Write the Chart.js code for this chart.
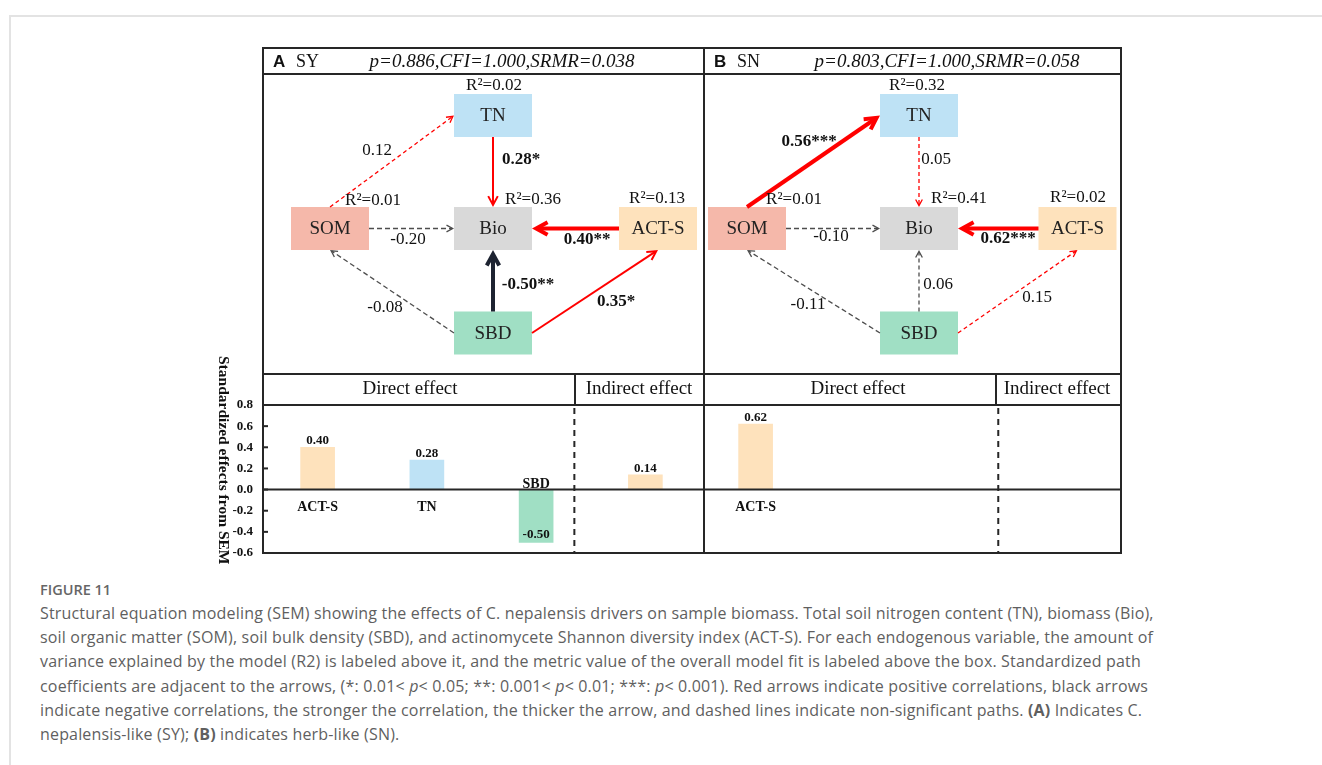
<!DOCTYPE html>
<html>
<head>
<meta charset="utf-8">
<script src="https://cdn.jsdelivr.net/npm/chart.js@4.4.1/dist/chart.umd.min.js"></script>
<style>
  body { margin:0; background:#fff; width:1322px; height:765px; overflow:hidden; position:relative; font-family:"Liberation Serif", serif; }
  .card { position:absolute; left:9px; top:15px; width:1400px; height:800px; border-top:2px solid #e3e3e3; border-left:2px solid #e3e3e3; }
  canvas { position:absolute; }
  .ln { position:absolute; background:#262626; z-index:5; }
  .hd { position:absolute; font-size:19px; color:#111; transform:translate(-50%,-50%); white-space:nowrap; z-index:6; }
  .ytitle { position:absolute; left:215px; top:356px; writing-mode:vertical-rl; font:bold 15.5px "Liberation Serif", serif; color:#111; white-space:nowrap; }
  .fig { position:absolute; left:40px; top:580px; font:600 14.5px "Open Sans", sans-serif; color:#666; }
  .cap { position:absolute; left:40px; top:601px; font:16px/24.2px "Open Sans", sans-serif; letter-spacing:0.17px; color:#5f5f5f; white-space:nowrap; }
</style>
</head>
<body>
<div class="card"></div>

<canvas id="semA" width="441" height="326" style="left:263px;top:48px"></canvas>
<canvas id="semB" width="417" height="326" style="left:704px;top:48px"></canvas>
<canvas id="barA" width="504" height="166" style="left:200px;top:395px"></canvas>
<canvas id="barB" width="417" height="166" style="left:704px;top:395px"></canvas>

<!-- table frame -->
<div class="ln" style="left:262px;top:47px;width:860px;height:2px"></div>
<div class="ln" style="left:262px;top:552px;width:860px;height:2px"></div>
<div class="ln" style="left:262px;top:47px;width:2px;height:507px"></div>
<div class="ln" style="left:1120px;top:47px;width:2px;height:507px"></div>
<div class="ln" style="left:703px;top:47px;width:2px;height:507px"></div>
<div class="ln" style="left:262px;top:73px;width:860px;height:2px"></div>
<div class="ln" style="left:262px;top:373px;width:860px;height:2px"></div>
<div class="ln" style="left:262px;top:404px;width:860px;height:2px"></div>
<div class="ln" style="left:574px;top:374px;width:2px;height:31px"></div>
<div class="ln" style="left:995px;top:374px;width:2px;height:31px"></div>

<div class="hd" style="left:410px;top:388px">Direct effect</div>
<div class="hd" style="left:639px;top:388px">Indirect effect</div>
<div class="hd" style="left:858px;top:388px">Direct effect</div>
<div class="hd" style="left:1057px;top:388px">Indirect effect</div>

<div class="ytitle">Standardized effects from SEM</div>

<div class="fig">FIGURE 11</div>
<div class="cap">
Structural equation modeling (SEM) showing the effects of C. nepalensis drivers on sample biomass. Total soil nitrogen content (TN), biomass (Bio),<br>
soil organic matter (SOM), soil bulk density (SBD), and actinomycete Shannon diversity index (ACT-S). For each endogenous variable, the amount of<br>
variance explained by the model (R2) is labeled above it, and the metric value of the overall model fit is labeled above the box. Standardized path<br>
coefficients are adjacent to the arrows, (*: 0.01&lt; <i>p</i>&lt; 0.05; **: 0.001&lt; <i>p</i>&lt; 0.01; ***: <i>p</i>&lt; 0.001). Red arrows indicate positive correlations, black arrows<br>
indicate negative correlations, the stronger the correlation, the thicker the arrow, and dashed lines indicate non-significant paths. <b>(A)</b> Indicates C.<br>
nepalensis-like (SY); <b>(B)</b> indicates herb-like (SN).
</div>

<script>
// ---- data ----
var nodeNames = ['TN', 'Bio', 'SOM', 'ACT-S', 'SBD'];
var r2A = [0.02, 0.36, 0.01, 0.13, null];
var r2B = [0.32, 0.41, 0.01, 0.02, null];

var fitNames = ['p', 'CFI', 'SRMR'];
var fitA = [0.886, 1.000, 0.038];
var fitB = [0.803, 1.000, 0.058];

var pathFrom = ['SOM', 'TN', 'SOM', 'ACT-S', 'SBD', 'SBD', 'SBD'];
var pathTo   = ['TN', 'Bio', 'Bio', 'Bio', 'Bio', 'SOM', 'ACT-S'];
var coefA = [0.12, 0.28, -0.20, 0.40, -0.50, -0.08, 0.35];
var sigA  = ['', '*', '', '**', '**', '', '*'];
var coefB = [0.56, 0.05, -0.10, 0.62, 0.06, -0.11, 0.15];
var sigB  = ['***', '', '', '***', '', '', ''];

var effectCats = ['ACT-S', 'TN', 'SBD', 'Indirect'];
var effectA = [0.40, 0.28, -0.50, 0.14];
var effectB = [0.62, null, null, null];
var shownA = ['ACT-S', 'TN', 'SBD', ''];
var shownB = ['ACT-S', '', '', ''];

var yTicksMin = -0.6, yTicksMax = 0.8, yStep = 0.2;

// ---- styles / layout ----
var fillOf = { 'TN': '#bee2f5', 'Bio': '#d9d9d9', 'SOM': '#f5b8aa', 'ACT-S': '#fee2bc', 'SBD': '#a0dfc4' };
var barFillA = [fillOf['ACT-S'], fillOf['TN'], fillOf['SBD'], fillOf['ACT-S']];
var barFillB = [fillOf['ACT-S'], fillOf['TN'], fillOf['SBD'], fillOf['ACT-S']];
var serif = '"Liberation Serif"';

var pathSides = [['top', 'left'], ['bottom', 'top'], ['right', 'left'], ['left', 'right'],
                 ['top', 'bottom'], ['left', 'bottom'], ['right', 'bottom']];

var layoutA = {
  tag: 'A', site: 'SY', statsX: 239,
  boxW: 78, boxH: 43,
  pos: { 'TN': [230, 67.5], 'Bio': [230, 180.5], 'SOM': [67, 180.5], 'ACT-S': [395, 180.5], 'SBD': [230, 285] },
  r2At: [[231, 38], [270, 152], [110, 153], [394, 151]],
  labelAt: [[114, 103], [258, 112], [145, 192], [324, 192], [265, 237], [122, 260], [353, 254]],
  colorFix: {}
};
var layoutB = {
  tag: 'B', site: 'SN', statsX: 243,
  boxW: 78, boxH: 43,
  pos: { 'TN': [215, 67.5], 'Bio': [215, 180.5], 'SOM': [43, 180.5], 'ACT-S': [373.5, 180.5], 'SBD': [215, 285] },
  r2At: [[213, 38], [255, 151], [90, 152], [374, 150]],
  labelAt: [[105, 94], [232, 112], [127, 189], [304, 191], [234, 237], [104, 257], [333, 250]],
  colorFix: { 4: '#4d4d4d' }
};

function pathStyle(coef, sig, fix) {
  var solid = sig !== '';
  return {
    color: fix || (coef > 0 ? '#ff0000' : (solid ? '#1d2331' : '#4d4d4d')),
    width: !solid ? 1.3 : (sig.length >= 2 ? 4 : 2),
    dash: solid ? [] : (coef > 0 ? [4, 3] : [5, 3]),
    head: !solid ? 7 : (sig.length >= 2 ? 13 : 10)
  };
}

function drawArrow(ctx, x1, y1, x2, y2, st) {
  var a = Math.atan2(y2 - y1, x2 - x1), h = 0.5;
  var back = st.width / (2 * Math.sin(h));
  var tx = x2 - Math.cos(a) * back, ty = y2 - Math.sin(a) * back;
  ctx.strokeStyle = st.color;
  ctx.lineWidth = st.width;
  ctx.lineCap = 'butt';
  ctx.setLineDash(st.dash);
  ctx.beginPath();
  ctx.moveTo(x1, y1);
  ctx.lineTo(tx - Math.cos(a) * st.width * 0.5, ty - Math.sin(a) * st.width * 0.5);
  ctx.stroke();
  ctx.setLineDash([]);
  ctx.lineJoin = 'miter';
  ctx.beginPath();
  ctx.moveTo(tx - st.head * Math.cos(a - h), ty - st.head * Math.sin(a - h));
  ctx.lineTo(tx, ty);
  ctx.lineTo(tx - st.head * Math.cos(a + h), ty - st.head * Math.sin(a + h));
  ctx.stroke();
}

var semPlugin = {
  id: 'sem',
  afterDraw: function(chart, args, o) {
    var ctx = chart.ctx, sx = chart.scales.x, sy = chart.scales.y, L = o.layout;
    var X = function(v) { return sx.getPixelForValue(v); };
    var Y = function(v) { return sy.getPixelForValue(v); };
    var side = function(name, s) {
      var p = L.pos[name], w = L.boxW / 2, h = L.boxH / 2;
      if (s === 'top') return [X(p[0]), Y(p[1] - h)];
      if (s === 'bottom') return [X(p[0]), Y(p[1] + h)];
      if (s === 'left') return [X(p[0] - w), Y(p[1])];
      return [X(p[0] + w), Y(p[1])];
    };
    ctx.save();
    // header
    ctx.fillStyle = '#111';
    ctx.textBaseline = 'middle';
    ctx.textAlign = 'left';
    ctx.font = 'bold 17px "Liberation Sans"';
    ctx.fillText(L.tag, X(10), Y(14));
    ctx.font = '18px ' + serif;
    ctx.fillText(L.site, X(33), Y(14));
    ctx.textAlign = 'center';
    ctx.font = 'italic 19px ' + serif;
    var stats = fitNames.map(function(n, i) { return n + '=' + o.fit[i].toFixed(3); }).join(',');
    ctx.fillText(stats, X(L.statsX), Y(14));

    // boxes
    nodeNames.forEach(function(n) {
      var p = L.pos[n];
      ctx.fillStyle = fillOf[n];
      ctx.fillRect(X(p[0] - L.boxW / 2), Y(p[1] - L.boxH / 2), L.boxW, L.boxH);
    });
    // arrows
    pathFrom.forEach(function(f, i) {
      var a = side(f, pathSides[i][0]), b = side(pathTo[i], pathSides[i][1]);
      drawArrow(ctx, a[0], a[1], b[0], b[1], pathStyle(o.coef[i], o.sig[i], L.colorFix[i]));
    });
    // box names
    ctx.fillStyle = '#222';
    ctx.font = '19px ' + serif;
    nodeNames.forEach(function(n) {
      var p = L.pos[n];
      ctx.fillText(n, X(p[0]), Y(p[1]) + 1);
    });
    // R2
    ctx.fillStyle = '#111';
    ctx.font = '17px ' + serif;
    o.r2.forEach(function(v, i) {
      if (v == null) return;
      ctx.fillText('R\u00b2=' + v.toFixed(2), X(L.r2At[i][0]), Y(L.r2At[i][1]));
    });
    // path coefficients
    o.coef.forEach(function(c, i) {
      ctx.font = (o.sig[i] ? 'bold ' : '') + '17px ' + serif;
      ctx.fillText(c.toFixed(2) + o.sig[i], X(L.labelAt[i][0]), Y(L.labelAt[i][1]));
    });
    ctx.restore();
  }
};

function makeSem(id, layout, coef, sig, r2, fit, w) {
  return new Chart(document.getElementById(id), {
    type: 'scatter',
    data: { datasets: [{ data: [] }] },
    options: {
      responsive: false, animation: false, devicePixelRatio: 1, events: [],
      layout: { padding: 0 },
      scales: {
        x: { type: 'linear', min: 0, max: w, display: false },
        y: { type: 'linear', min: 0, max: 326, reverse: true, display: false }
      },
      plugins: { legend: { display: false }, tooltip: { enabled: false },
        sem: { layout: layout, coef: coef, sig: sig, r2: r2, fit: fit } }
    },
    plugins: [semPlugin]
  });
}

var barDecor = {
  id: 'barDecor',
  afterDatasetsDraw: function(chart, args, o) {
    var ctx = chart.ctx, area = chart.chartArea, ys = chart.scales.y, xs = chart.scales.x;
    var y0 = ys.getPixelForValue(0);
    ctx.save();
    ctx.strokeStyle = '#262626';
    ctx.lineWidth = 2;
    ctx.beginPath(); ctx.moveTo(area.left, y0); ctx.lineTo(chart.width, y0); ctx.stroke();
    var sx = xs.getPixelForValue(o.sep);
    ctx.setLineDash([6, 5]);
    ctx.beginPath(); ctx.moveTo(sx, area.top + 3); ctx.lineTo(sx, area.bottom); ctx.stroke();
    ctx.setLineDash([]);
    if (o.ticks) {
      ys.ticks.forEach(function(t) {
        var ty = ys.getPixelForValue(t.value);
        ctx.beginPath(); ctx.moveTo(area.left, ty); ctx.lineTo(area.left + 5, ty); ctx.stroke();
      });
    }
    var meta = chart.getDatasetMeta(0), vals = chart.data.datasets[0].data;
    ctx.fillStyle = '#111';
    ctx.textAlign = 'center';
    meta.data.forEach(function(bar, i) {
      var v = vals[i];
      if (v == null) return;
      ctx.font = 'bold 13px ' + serif;
      if (v >= 0) { ctx.textBaseline = 'bottom'; ctx.fillText(v.toFixed(2), bar.x, bar.y); }
      else { ctx.textBaseline = 'middle'; ctx.fillText(v.toFixed(2), bar.x, bar.y - 8); }
      var name = o.names[i];
      if (!name) return;
      ctx.font = 'bold 14px ' + serif;
      if (v >= 0) { ctx.textBaseline = 'middle'; ctx.fillText(name, bar.x, y0 + 18); }
      else { ctx.textBaseline = 'bottom'; ctx.fillText(name, bar.x, y0 + 2); }
    });
    ctx.restore();
  }
};

function makeBars(id, values, fills, names, withAxis) {
  return new Chart(document.getElementById(id), {
    type: 'bar',
    data: { labels: effectCats, datasets: [{ data: values, backgroundColor: fills, borderWidth: 0, barThickness: 34 }] },
    options: {
      responsive: false, animation: false, devicePixelRatio: 1, events: [],
      layout: { padding: { top: 10, bottom: 8, right: 4, left: 0 } },
      scales: {
        x: { display: false },
        y: {
          display: withAxis, min: yTicksMin, max: yTicksMax,
          grid: { display: false, drawTicks: false },
          border: { display: false },
          ticks: { stepSize: yStep, padding: 10, color: '#111',
                   font: { family: 'Liberation Serif', weight: 'bold', size: 13 },
                   callback: function(v) { return Number(v).toFixed(1); } },
          afterFit: function(s) {
            if (!withAxis) return;
            s.width = 63;
            s.paddingTop = 0;
            s.paddingBottom = 0;
          }
        }
      },
      plugins: { legend: { display: false }, tooltip: { enabled: false },
        barDecor: { sep: 2.35, ticks: withAxis, names: names } }
    },
    plugins: [barDecor]
  });
}

makeSem('semA', layoutA, coefA, sigA, r2A, fitA, 441);
makeSem('semB', layoutB, coefB, sigB, r2B, fitB, 417);
makeBars('barA', effectA, barFillA, shownA, true);
makeBars('barB', effectB, barFillB, shownB, false);
</script>
</body>
</html>
